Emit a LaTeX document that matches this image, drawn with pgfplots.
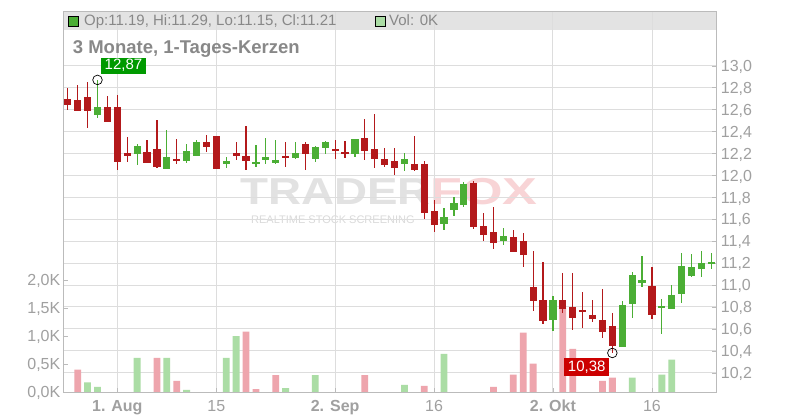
\documentclass[border=0pt]{standalone}
\usepackage{fontspec}
\setmainfont{Liberation Sans}
\usepackage{pgfplots}
\usepackage{pgfplotstable}
\pgfplotsset{compat=1.18}
\pgfkeys{/pgf/number format/assume math mode=true}

\definecolor{candlered}{HTML}{B3191B}
\definecolor{candlegreen}{HTML}{4BAE35}
\definecolor{volred}{HTML}{EEA5AD}
\definecolor{volgreen}{HTML}{ABDDA5}
\definecolor{gridgray}{HTML}{DDDDDD}
\definecolor{framegray}{HTML}{BBBBBB}
\definecolor{labelgray}{HTML}{A0A0A0}
\definecolor{titlegray}{HTML}{888888}
\definecolor{bandgray}{HTML}{E3E3E3}
\definecolor{boxgreen}{HTML}{009A00}
\definecolor{boxred}{HTML}{CC0000}
\definecolor{wmgray}{HTML}{E2E2E2}
\definecolor{wmsub}{HTML}{DADADA}
\definecolor{wmpink}{HTML}{F8D4D6}

% day index: 0 = 1. Aug
\pgfplotstableread{
x o h l c
-5 12.70 12.80 12.60 12.64
-4 12.69 12.82 12.59 12.59
-3 12.71 12.85 12.43 12.59
-1 12.62 12.72 12.49 12.49
0 12.62 12.73 12.05 12.12
1 12.20 12.35 12.12 12.18
3 12.21 12.32 12.11 12.11
4 12.24 12.50 12.07 12.08
6 12.15 12.33 12.10 12.13
9 12.30 12.37 12.21 12.26
10 12.36 12.36 12.06 12.06
12 12.20 12.30 12.14 12.18
13 12.18 12.45 12.05 12.13
17 12.18 12.30 12.08 12.16
19 12.29 12.30 12.05 12.19
22 12.24 12.32 12.15 12.22
23 12.21 12.31 12.16 12.195
25 12.34 12.51 12.14 12.22
26 12.24 12.56 12.07 12.15
27 12.15 12.25 12.08 12.09
28 12.13 12.25 12.00 12.07
30 12.10 12.36 12.04 12.05
31 12.10 12.13 11.60 11.66
32 11.675 11.775 11.48 11.55
36 11.93 11.95 11.51 11.53
37 11.54 11.66 11.40 11.46
38 11.48 11.71 11.33 11.38
40 11.44 11.50 11.30 11.30
41 11.40 11.47 11.16 11.27
42 10.98 11.31 10.76 10.85
43 10.86 11.21 10.64 10.67
45 10.86 11.11 10.74 10.78
46 10.80 11.11 10.59 10.70
47 10.77 10.94 10.61 10.75
48 10.73 10.86 10.66 10.69
49 10.68 10.96 10.52 10.57
50 10.63 10.745 10.38 10.44
54 10.99 11.16 10.69 10.73
}\redcandles

\pgfplotstableread{
x o h l c
-2 12.55 12.87 12.52 12.62
2 12.19 12.29 12.09 12.27
5 12.06 12.41 12.06 12.17
7 12.13 12.29 12.11 12.22
8 12.18 12.32 12.18 12.30
11 12.10 12.17 12.07 12.13
14 12.10 12.28 12.08 12.12
15 12.14 12.34 12.10 12.17
16 12.115 12.32 12.10 12.14
18 12.16 12.30 12.15 12.20
20 12.15 12.27 12.12 12.26
21 12.25 12.31 12.19 12.30
24 12.19 12.33 12.17 12.33
29 12.10 12.20 12.04 12.15
33 11.56 11.70 11.50 11.62
34 11.68 11.80 11.63 11.75
35 11.73 11.94 11.71 11.92
39 11.40 11.52 11.36 11.45
44 10.68 10.90 10.58 10.86
51 10.43 10.85 10.43 10.82
52 10.83 11.12 10.70 11.09
53 11.02 11.26 10.98 11.045
55 10.795 10.87 10.55 10.81
56 10.78 11.00 10.78 10.91
57 10.92 11.29 10.84 11.17
58 11.085 11.28 11.07 11.16
59 11.15 11.31 11.07 11.20
60 11.19 11.29 11.15 11.21
}\greencandles

% volume in thousands
\pgfplotstableread{
x v
-4 0.40
4 0.61
6 0.20
13 1.08
14 0.05
16 0.30
25 0.30
31 0.11
38 0.09
40 0.31
41 1.06
42 0.505
45 1.50
46 0.77
49 0.20
50 0.255
}\redvol

\pgfplotstableread{
x v
-3 0.17
-2 0.09
2 0.61
5 0.61
7 0.04
11 0.61
12 1.00
17 0.07
20 0.30
29 0.125
33 0.68
52 0.255
55 0.31
56 0.58
}\greenvol

\pgfplotsset{
  chartbox/.style={
    at={(63.5pt,28pt)}, anchor=south west,
    width=652.5pt, height=380.5pt, scale only axis,
    xmin=-5.434, xmax=60.47,
  },
  wick/.style={draw=none, mark=none, forget plot,
    error bars/.cd, y dir=both, y explicit, error mark=none,
    error bar style={draw=#1, line width=1.2pt}},
  body/.style={draw=none, mark=none, forget plot,
    error bars/.cd, y dir=both, y explicit, error mark=none,
    error bar style={draw=#1, line width=7.2pt}},
}

\begin{document}
\begin{tikzpicture}[x=1pt,y=1pt]
\useasboundingbox (0,0) rectangle (800,420);
\fill[white] (0,0) rectangle (800,420);

% header band and watermark behind the grid
\fill[bandgray] (63.5,390.3) rectangle (716,408.5);
\node[anchor=base west, inner sep=0pt, font=\fontsize{37.5}{37.5}\selectfont\bfseries, text=wmgray, xscale=1.22]
  at (240,215) {TRADER};
\node[anchor=base west, inner sep=0pt, font=\fontsize{37.5}{37.5}\selectfont\bfseries, text=wmpink, xscale=1.39]
  at (430,215) {FOX};
\node[anchor=base west, inner sep=0pt, font=\fontsize{11}{11}\selectfont, text=wmsub]
  at (251,196.7) {REALTIME STOCK SCREENING};

% frame, grid, price and date labels
\begin{axis}[chartbox,
  ymin=10.024, ymax=13.494,
  axis line style={framegray},
  grid=major, grid style={gridgray, line width=0.9pt},
  tick style={framegray}, major tick length=4pt,
  xtick={0,10,22,32,44,54},
  xticklabels={{\bfseries 1. Aug},15,{\bfseries 2. Sep},16,{\bfseries 2. Okt},16},
  xtick pos=bottom,
  xticklabel style={anchor=base, inner sep=0pt, yshift=-19.7pt},
  ytick={10.2,10.4,10.6,10.8,11.0,11.2,11.4,11.6,11.8,12.0,12.2,12.4,12.6,12.8,13.0},
  ytick pos=right, yticklabel pos=right,
  yticklabel style={anchor=base west, inner sep=0pt, xshift=4.7pt, yshift=-5.8pt,
    /pgf/number format/.cd, fixed, fixed zerofill, precision=1, use comma},
  tick label style={font=\fontsize{16}{16}\selectfont, text=labelgray},
]
\end{axis}

% volume
\begin{axis}[chartbox,
  ymin=0, ymax=6.795,
  axis line style={draw=none},
  xtick=\empty,
  ytick={0,0.5,1,1.5,2}, ytick pos=left, yticklabel pos=left,
  tick style={framegray}, major tick length=4pt,
  yticklabel={\pgfmathprintnumber[fixed,fixed zerofill,precision=1,use comma]{\tick}K},
  yticklabel style={anchor=base east, inner sep=0pt, xshift=-3pt, yshift=-5.8pt},
  tick label style={font=\fontsize{16}{16}\selectfont, text=labelgray},
]
\addplot[ybar, bar width=6.8pt, bar shift=0pt, fill=volred, draw=none] table[x=x, y=v] {\redvol};
\addplot[ybar, bar width=6.8pt, bar shift=0pt, fill=volgreen, draw=none] table[x=x, y=v] {\greenvol};
\end{axis}

% candles
\begin{axis}[chartbox, ymin=10.024, ymax=13.494, hide axis, clip=false]
\addplot[wick=candlered] table[x=x, y expr={(\thisrow{h}+\thisrow{l})/2},
  y error expr={(\thisrow{h}-\thisrow{l})/2}] {\redcandles};
\addplot[body=candlered] table[x=x, y expr={(\thisrow{o}+\thisrow{c})/2},
  y error expr={max(abs(\thisrow{o}-\thisrow{c})/2,0.006)}] {\redcandles};
\addplot[wick=candlegreen] table[x=x, y expr={(\thisrow{h}+\thisrow{l})/2},
  y error expr={(\thisrow{h}-\thisrow{l})/2}] {\greencandles};
\addplot[body=candlegreen] table[x=x, y expr={(\thisrow{o}+\thisrow{c})/2},
  y error expr={max(abs(\thisrow{o}-\thisrow{c})/2,0.006)}] {\greencandles};
\addplot[only marks, mark=o, mark size=4.8pt, mark options={black, line width=0.7pt}]
  coordinates {(-2,12.87) (50,10.38)};
\node[fill=boxgreen, text=white, anchor=south west, inner xsep=4pt, inner ysep=0pt,
  minimum height=16pt, font=\fontsize{15}{15}\selectfont, xshift=3pt, yshift=6pt]
  at (axis cs:-2,12.87) {12,87};
\node[fill=boxred, text=white, anchor=north east, inner xsep=3.5pt, inner ysep=0pt,
  minimum height=17.5pt, font=\fontsize{15}{15}\selectfont, xshift=-3.2pt, yshift=-5pt]
  at (axis cs:50,10.38) {10,38};
\end{axis}

% header texts
\draw[black, line width=0.8pt, fill=candlegreen] (68.2,393.8) rectangle (78.6,403.4);
\node[anchor=base west, inner sep=0pt, font=\fontsize{15}{15}\selectfont, text=titlegray]
  at (84,394.3) {Op:11.19, Hi:11.29, Lo:11.15, Cl:11.21};
\draw[black, line width=0.8pt, fill=volgreen] (375,393.8) rectangle (385.4,403.4);
\node[anchor=base west, inner sep=0pt, font=\fontsize{15}{15}\selectfont, text=titlegray]
  at (389,394.3) {Vol: 0K};
\node[anchor=base west, inner sep=0pt, font=\fontsize{18.5}{18.5}\selectfont\bfseries, text=titlegray]
  at (72.7,366) {3 Monate, 1-Tages-Kerzen};
\end{tikzpicture}
\end{document}
